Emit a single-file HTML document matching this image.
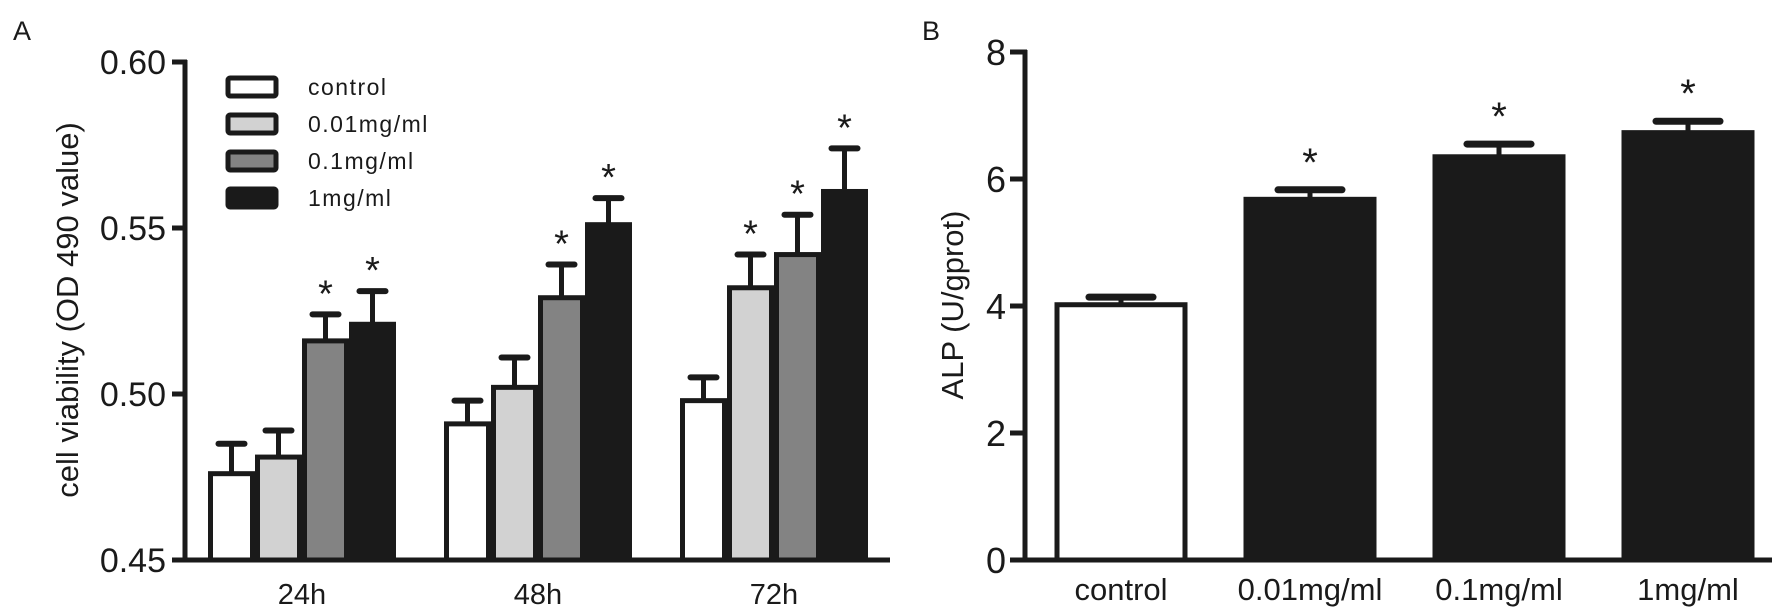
<!DOCTYPE html>
<html><head><meta charset="utf-8"><style>
body{margin:0;background:#fff;width:1772px;height:614px;overflow:hidden}
svg{display:block;font-family:"Liberation Sans",sans-serif}
</style></head><body>
<svg id="s" width="1772" height="614" viewBox="0 0 1772 614"></svg>
<script>
const groupsA=["24h","48h","72h"];
const seriesA=["control","0.01mg/ml","0.1mg/ml","1mg/ml"];
const valuesA=[[0.476,0.491,0.498],[0.481,0.502,0.532],[0.516,0.529,0.542],[0.521,0.551,0.561]];
const errorsA=[[0.009,0.007,0.007],[0.008,0.009,0.010],[0.008,0.010,0.012],[0.010,0.008,0.013]];
const starsA=[[0,0,0],[0,0,1],[1,1,1],[1,1,1]];
const ticksA=[0.45,0.50,0.55,0.60];
const tickLabelsA=["0.45","0.50","0.55","0.60"];
const catsB=["control","0.01mg/ml","0.1mg/ml","1mg/ml"];
const valuesB=[4.02,5.68,6.35,6.73];
const errorsB=[0.12,0.15,0.2,0.18];
const starsB=[0,1,1,1];
const ticksB=[0,2,4,6,8];
const fills=["#ffffff","#d2d2d2","#838383","#1a1a1a"];
const K="#1a1a1a";
const s=document.getElementById('s');
const NS="http://www.w3.org/2000/svg";
function mk(tag,at,parent){const e=document.createElementNS(NS,tag);for(const k in at)e.setAttribute(k,at[k]);(parent||s).appendChild(e);return e;}
function txt(str,at){const e=mk('text',at);e.textContent=str;return e;}
const yA=v=>560-(v-0.45)/0.15*498;
const xA=(g,i)=>208+g*236+i*47;
const yB=v=>560-v/8*508;
const xB=i=>1121+i*189;

let e=txt("A",{x:13,y:40,"font-size":27,fill:K});


e=txt("B",{x:922,y:40,"font-size":27,fill:K});



seriesA.forEach((sn,i)=>{groupsA.forEach((gn,g)=>{
  const x=xA(g,i),v=valuesA[i][g],er=errorsA[i][g],cx=x+23.5;
  const l=mk('line',{x1:cx,x2:cx,y1:yA(v),y2:yA(v+er),stroke:K,"stroke-width":5});
  
  
  const c=mk('line',{x1:cx-13,x2:cx+13,y1:yA(v+er),y2:yA(v+er),stroke:K,"stroke-width":6,"stroke-linecap":"round"});
  
  
  const r=mk('rect',{x:x+2.5,y:yA(v),width:42,height:560-yA(v),fill:fills[i],stroke:K,"stroke-width":5});
  
  
  if(starsA[i][g]){const t=txt("*",{x:cx,y:yA(v+er)-8,"font-size":38,"text-anchor":"middle",fill:K});
    
    }
});});
e=mk('line',{x1:185,x2:185,y1:60,y2:562,stroke:K,"stroke-width":5});


e=mk('line',{x1:172,x2:890,y1:560,y2:560,stroke:K,"stroke-width":5});


ticksA.forEach((t,k)=>{
  const l=mk('line',{x1:172,x2:187,y1:yA(t),y2:yA(t),stroke:K,"stroke-width":5});
  
  
  const tt=txt(tickLabelsA[k],{x:166,y:yA(t)+12,"font-size":34,"text-anchor":"end",fill:K});
  
  
});
groupsA.forEach((gn,g)=>{const t=txt(gn,{x:xA(g,0)+94,y:604,"font-size":29,"text-anchor":"middle",fill:K});
  
  });
e=txt("cell viability (OD 490 value)",{x:0,y:0,"font-size":31,"text-anchor":"middle",fill:K,transform:"translate(78,310) rotate(-90)"});


seriesA.forEach((sn,i)=>{
  const y=78+i*37;
  const r=mk('rect',{x:228,y:y,width:48,height:18,fill:fills[i],stroke:K,"stroke-width":5,rx:2});
  
  
  const t=txt(sn,{x:308,y:y+17,"font-size":23,fill:K,"letter-spacing":"1.5"});
  
  
});

catsB.forEach((cn,i)=>{
  const cx=xB(i),v=valuesB[i],er=errorsB[i];
  const l=mk('line',{x1:cx,x2:cx,y1:yB(v),y2:yB(v+er),stroke:K,"stroke-width":5});
  
  
  const c=mk('line',{x1:cx-32,x2:cx+32,y1:yB(v+er),y2:yB(v+er),stroke:K,"stroke-width":7,"stroke-linecap":"round"});
  
  
  const r=mk('rect',{x:cx-64,y:yB(v),width:128,height:560-yB(v),fill:i==0?"#fff":K,stroke:K,"stroke-width":5});
  
  
  if(starsB[i]){const t=txt("*",{x:cx,y:yB(v+er)-14,"font-size":40,"text-anchor":"middle",fill:K});
    
    }
  const t=txt(cn,{x:cx,y:600,"font-size":31,"text-anchor":"middle",fill:K});
  
  
});
e=mk('line',{x1:1025,x2:1025,y1:50,y2:562,stroke:K,"stroke-width":5});


e=mk('line',{x1:1012,x2:1772,y1:560,y2:560,stroke:K,"stroke-width":5});


ticksB.forEach(t=>{
  const l=mk('line',{x1:1010,x2:1027,y1:yB(t),y2:yB(t),stroke:K,"stroke-width":5});
  
  
  const tt=txt(String(t),{x:1006,y:yB(t)+13,"font-size":36,"text-anchor":"end",fill:K});
  
  
});
e=txt("ALP (U/gprot)",{x:0,y:0,"font-size":31,"text-anchor":"middle",fill:K,transform:"translate(963,305) rotate(-90)"});


</script>
</body></html>
